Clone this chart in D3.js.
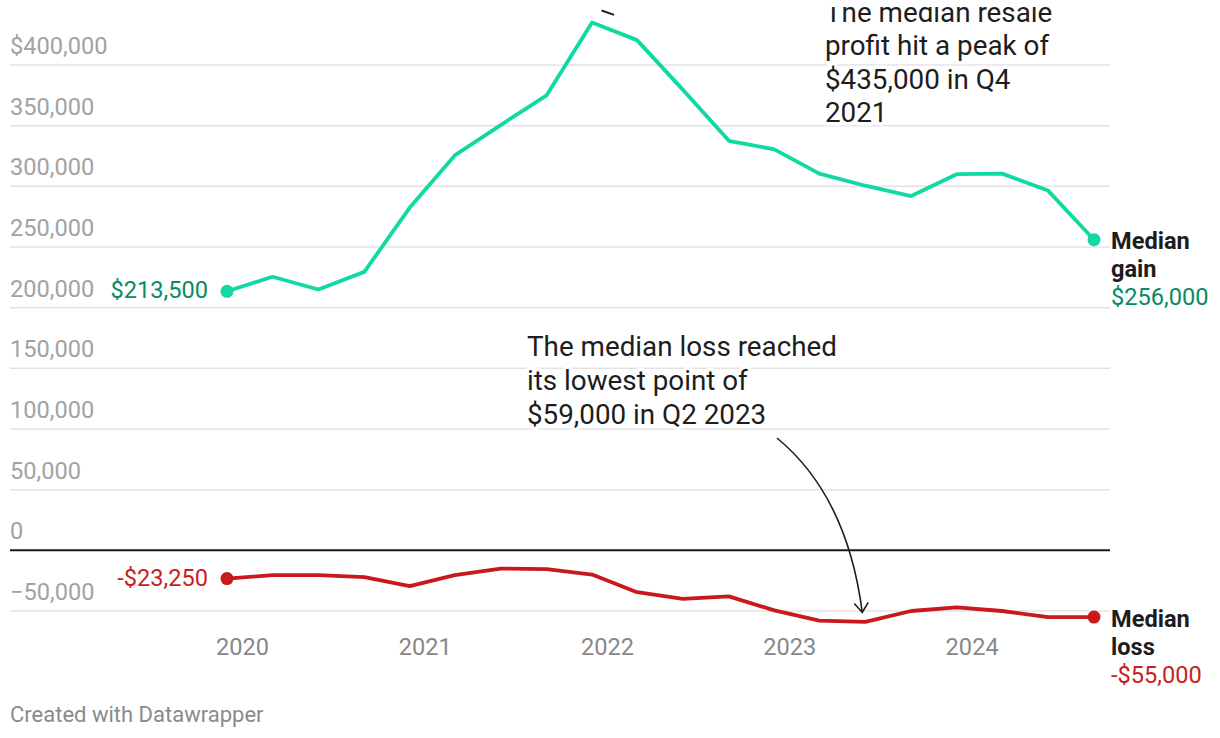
<!DOCTYPE html>
<html>
<head>
<meta charset="utf-8">
<script src="https://cdn.jsdelivr.net/npm/d3@7"></script>
<style>
  html, body { margin: 0; padding: 0; background: #fff; }
  svg { display: block; font-family: Roboto, "Noto Sans", sans-serif; }
</style>
</head>
<body>
<svg id="chart" width="1220" height="738"></svg>
<script>
// ---- data ----
const quarters = ["Q4 2019","Q1 2020","Q2 2020","Q3 2020","Q4 2020","Q1 2021","Q2 2021","Q3 2021","Q4 2021","Q1 2022","Q2 2022","Q3 2022","Q4 2022","Q1 2023","Q2 2023","Q3 2023","Q4 2023","Q1 2024","Q2 2024","Q3 2024"];
const medianGain = [213500, 225500, 215000, 229500, 282500, 325500, 350500, 375000, 435000, 420500, 379500, 337500, 330500, 310500, 300500, 292000, 310000, 310500, 296500, 256000];
const medianLoss = [-23250, -20500, -20500, -22000, -29500, -20500, -15000, -15500, -20000, -34500, -40000, -38000, -49500, -58000, -59000, -50000, -47000, -50000, -55000, -55000];
const yTicks = [-50000, 0, 50000, 100000, 150000, 200000, 250000, 300000, 350000, 400000];
const xTickYears = ["2020", "2021", "2022", "2023", "2024"];
const gainStartLabel = "$213,500";
const lossStartLabel = "-$23,250";
const gainEndLabel = ["Median", "gain", "$256,000"];
const lossEndLabel = ["Median", "loss", "-$55,000"];
const peakNote = ["The median resale", "profit hit a peak of", "$435,000 in Q4", "2021"];
const lossNote = ["The median loss reached", "its lowest point of", "$59,000 in Q2 2023"];

// ---- helpers ----
function qDate(q) {
  const [qq, yy] = q.split(" ");
  const n = +qq.slice(1);
  return new Date(+yy, n * 3 - 1, 1);
}
const dates = quarters.map(qDate);

const svg = d3.select("#chart");
const W = 1220, H = 738;
const green = "#10d9a3", greenText = "#078c5f";
const red = "#c8191f", redText = "#c81e1e";
const fs = 23.6;

const x = d3.scaleTime().domain([dates[0], dates[dates.length - 1]]).range([227, 1094]);
const y = d3.scaleLinear().domain([-50000, 400000]).range([611, 65]);

// gridlines
const grid = svg.append("g");
grid.selectAll("line").data(yTicks.filter(d => d !== 0)).join("line")
  .attr("x1", 10).attr("x2", 1110)
  .attr("y1", d => y(d)).attr("y2", d => y(d))
  .attr("stroke", "#e3e3e3").attr("stroke-width", 1.5);

// y tick labels
const fmt = d3.format(",");
svg.append("g").selectAll("text").data(yTicks).join("text")
  .attr("x", 10).attr("y", d => y(d) - 11)
  .attr("fill", "#a2a2a2").attr("font-size", fs)
  .text(d => d === 400000 ? "$" + fmt(d) : (d < 0 ? "\u2212" + fmt(-d) : fmt(d)));

// x axis labels
svg.append("g").selectAll("text").data(xTickYears).join("text")
  .attr("x", d => x(new Date(+d, 0, 1))).attr("y", 655)
  .attr("text-anchor", "middle").attr("fill", "#888").attr("font-size", fs)
  .text(d => d);

// zero line
svg.append("line").attr("x1", 10).attr("x2", 1110)
  .attr("y1", y(0)).attr("y2", y(0))
  .attr("stroke", "#1a1a1a").attr("stroke-width", 2);

// annotations (clipped at top)
svg.append("defs").append("clipPath").attr("id", "clipTop")
  .append("rect").attr("x", 0).attr("y", 7).attr("width", W).attr("height", H);
const ann = svg.append("g").attr("clip-path", "url(#clipTop)");

function noteText(g, lines, x0, y0, lh) {
  const t = g.append("text").attr("font-size", 27.8).attr("fill", "#1d1d1d")
    .attr("stroke", "#fff").attr("stroke-width", 7).attr("stroke-linejoin", "round")
    .attr("paint-order", "stroke");
  lines.forEach((l, i) => t.append("tspan").attr("x", x0).attr("y", y0 + i * lh).text(l));
}
noteText(ann, peakNote, 825, 21.5, 33.5);
noteText(ann, lossNote, 527, 356, 34);

// peak arrow fragment (rest is cut off above the chart)
const pk = [x(dates[8]), y(435000)];
ann.append("path")
  .attr("d", `M${pk[0] + 9.5},${pk[1] - 12} L${pk[0] + 22},${pk[1] - 7.7}`)
  .attr("stroke", "#1d1d1d").attr("stroke-width", 2).attr("fill", "none");

// loss arrow
const lo = [x(dates[14]) - 3, y(-59000) - 9.5];
const st = [777, 438];
ann.append("path")
  .attr("d", `M${st[0]},${st[1]} Q${lo[0] - 15},${st[1] + 58} ${lo[0]},${lo[1]}`)
  .attr("stroke", "#1d1d1d").attr("stroke-width", 1.6).attr("fill", "none");
ann.append("path")
  .attr("d", `M${lo[0] - 8},${lo[1] - 9} L${lo[0]},${lo[1]} L${lo[0] + 6},${lo[1] - 10}`)
  .attr("stroke", "#1d1d1d").attr("stroke-width", 1.6).attr("fill", "none");

// lines
const line = d3.line().x((d, i) => x(dates[i])).y(d => y(d));
svg.append("path").datum(medianGain).attr("d", line)
  .attr("fill", "none").attr("stroke", green).attr("stroke-width", 3.8).attr("stroke-linejoin", "round");
svg.append("path").datum(medianLoss).attr("d", line)
  .attr("fill", "none").attr("stroke", red).attr("stroke-width", 3.8).attr("stroke-linejoin", "round");

// end dots
const last = dates.length - 1;
[[medianGain, green], [medianLoss, red]].forEach(([s, c]) => {
  [0, last].forEach(i => {
    svg.append("circle").attr("cx", x(dates[i])).attr("cy", y(s[i])).attr("r", 6.5).attr("fill", c);
  });
});

// start labels
svg.append("text").attr("x", 208).attr("y", y(medianGain[0]) + 7)
  .attr("text-anchor", "end").attr("font-size", fs).attr("fill", greenText).text(gainStartLabel);
svg.append("text").attr("x", 208).attr("y", y(medianLoss[0]) + 7.5)
  .attr("text-anchor", "end").attr("font-size", fs).attr("fill", redText).text(lossStartLabel);

// end labels
function endLabel(lines, val, col) {
  const x0 = 1111, y0 = y(val) + 9.5;
  const t = svg.append("text").attr("font-size", fs);
  lines.forEach((l, i) => {
    t.append("tspan").attr("x", x0).attr("y", y0 + i * 28)
      .attr("font-weight", i < 2 ? "bold" : "normal")
      .attr("fill", i < 2 ? "#1d1d1d" : col).text(l);
  });
}
endLabel(gainEndLabel, medianGain[last], greenText);
endLabel(lossEndLabel, medianLoss[last], redText);

// footer
svg.append("text").attr("x", 10).attr("y", 722).attr("font-size", 22)
  .attr("fill", "#8a8a8a").text("Created with Datawrapper");
</script>
</body>
</html>
